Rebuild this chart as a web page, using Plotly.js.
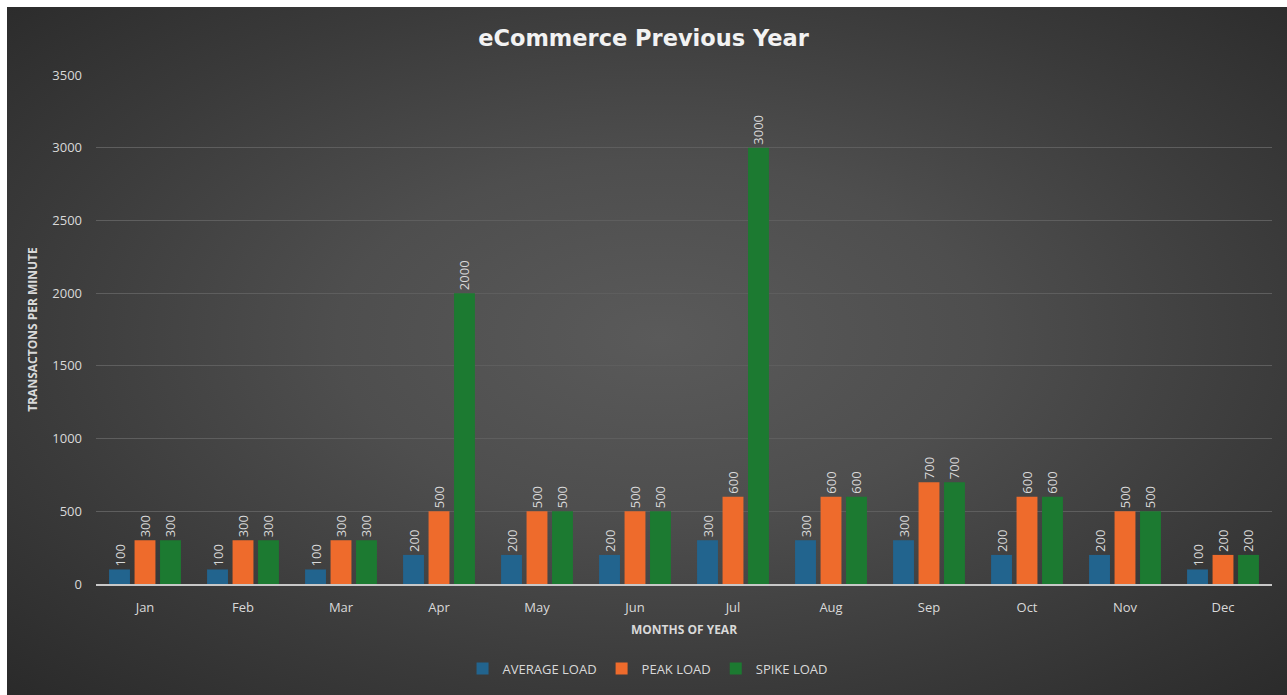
<!DOCTYPE html>
<html><head><meta charset="utf-8">
<script src="https://cdn.plot.ly/plotly-3.0.1.min.js"></script>
<style>
html,body{margin:0;padding:0;background:#fff;}
#bg{position:absolute;left:7px;top:7px;width:1280px;height:688px;
background:radial-gradient(ellipse at 51% 48%, #5a5a5a 0%, #4e4e4e 35%, #3a3a3a 70%, #2a2a2a 100%);}
#chart{position:absolute;left:0;top:0;width:1287px;height:695px;}
</style></head>
<body>
<div id="bg"></div>
<div id="chart"></div>
<script>
const months = ["Jan","Feb","Mar","Apr","May","Jun","Jul","Aug","Sep","Oct","Nov","Dec"];
const averageLoad = [100,100,100,200,200,200,300,300,300,200,200,100];
const peakLoad    = [300,300,300,500,500,500,600,600,700,600,500,200];
const spikeLoad   = [300,300,300,2000,500,500,3000,600,700,600,500,200];

const labelFont = {family:"Open Sans, sans-serif", size:13, color:"#d9d9d9"};
function series(name, vals, color){
  return {type:"bar", name:name, x:months, y:vals, marker:{color:color},
    text:vals.map(String), textposition:"outside", textangle:-90, constraintext:"none",
    textfont:labelFont, cliponaxis:false, hoverinfo:"x+y"};
}
const data = [
  series("AVERAGE LOAD", averageLoad, "#22648e"),
  series("PEAK LOAD", peakLoad, "#ee6b2c"),
  series("SPIKE LOAD", spikeLoad, "#1c7a31")
];
const layout = {
  width:1287, height:695,
  paper_bgcolor:"rgba(0,0,0,0)", plot_bgcolor:"rgba(0,0,0,0)",
  margin:{l:96, r:15, t:75, b:107},
  barmode:"group", bargap:0.22, bargroupgap:0.18,
  font:{family:"Open Sans, sans-serif", color:"#d9d9d9"},
  title:{text:"<b>eCommerce Previous Year</b>", x:0.5, xanchor:"center", y:0.945, yanchor:"middle",
    font:{family:"DejaVu Sans, sans-serif", size:22.5, color:"#f2f2f2"}},
  xaxis:{type:"category", showgrid:false, showline:true, linecolor:"#c8c8c8", linewidth:1.5,
    ticks:"", ticklabelstandoff:11, tickfont:{size:13, color:"#d9d9d9"},
    title:{text:"<b>MONTHS OF YEAR</b>", font:{size:12, color:"#d9d9d9"}, standoff:10}},
  yaxis:{range:[0,3500], dtick:500, showgrid:true, gridcolor:"#5e5e5e", gridwidth:1,
    zeroline:false, showline:false, ticks:"", ticklabelstandoff:13, tickfont:{size:13, color:"#d9d9d9"},
    title:{text:"<b>TRANSACTONS PER MINUTE</b>", font:{size:12, color:"#d9d9d9"}, standoff:12}},
  legend:{orientation:"h", x:0.469, xanchor:"center", y:-0.166, yanchor:"middle",
    font:{size:13, color:"#d9d9d9"}, bgcolor:"rgba(0,0,0,0)", itemwidth:30, tracegroupgap:0},
  showlegend:true
};
Plotly.newPlot("chart", data, layout, {displayModeBar:false, staticPlot:true});
</script>
</body></html>
